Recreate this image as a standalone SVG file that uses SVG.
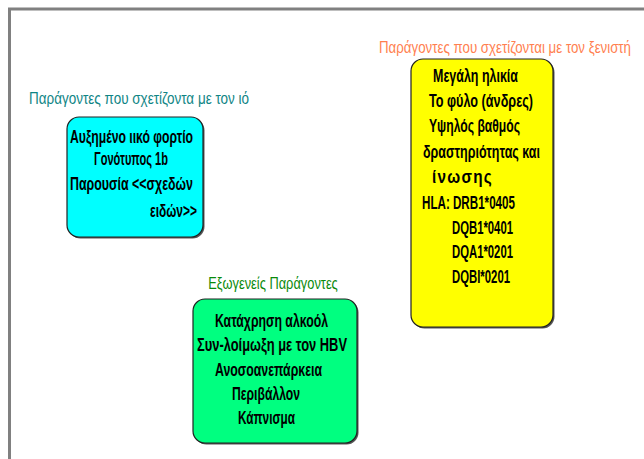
<svg xmlns="http://www.w3.org/2000/svg" width="644" height="459" viewBox="0 0 644 459">
<style>
.t{font-family:"Liberation Sans Narrow","Liberation Sans",Arial,sans-serif;font-size:16px;}
.b{font-family:"Liberation Sans Narrow","Liberation Sans",Arial,sans-serif;font-size:18px;font-weight:bold;fill:#000;}
.box{stroke:#222;stroke-width:1.2;}
.sh{fill:#555;}
</style>
<rect width="644" height="459" fill="#fff"/>
<path d="M9.5 459 V9 H644" fill="none" stroke="#808080" stroke-width="3"/>
<g id="virus">
<text class="t" transform="translate(139,104) scale(0.8,1)" x="0" y="0" text-anchor="middle" fill="#0f8585" textLength="275" lengthAdjust="spacingAndGlyphs">Παράγοντες που σχετίζοντα με τον ιό</text>
<rect class="sh" x="68.5" y="118.5" width="136" height="120" rx="12"/>
<rect class="box" x="67" y="117" width="136" height="120" rx="12" fill="#00ffff"/>
<text class="b" x="70" y="143" textLength="123" lengthAdjust="spacingAndGlyphs">Αυξημένο ιικό φορτίο</text>
<text class="b" x="94" y="165" textLength="74" lengthAdjust="spacingAndGlyphs">Γονότυπος 1b</text>
<text class="b" x="70" y="190" textLength="123" lengthAdjust="spacingAndGlyphs">Παρουσία &lt;&lt;σχεδών</text>
<text class="b" x="150" y="217" textLength="47" lengthAdjust="spacingAndGlyphs">ειδών&gt;&gt;</text>
</g>
<g id="host">
<text class="t" transform="translate(505,53) scale(0.8,1)" x="0" y="0" text-anchor="middle" fill="#ff7f50" textLength="315" lengthAdjust="spacingAndGlyphs">Παράγοντες που σχετίζονται με τον ξενιστή</text>
<rect class="sh" x="412.5" y="60.5" width="142" height="268" rx="12"/>
<rect class="box" x="411" y="59" width="142" height="268" rx="12" fill="#ffff00"/>
<text class="b" x="433" y="82" textLength="85" lengthAdjust="spacingAndGlyphs">Μεγάλη ηλικία</text>
<text class="b" x="429" y="107" textLength="104" lengthAdjust="spacingAndGlyphs">Το φύλο (άνδρες)</text>
<text class="b" x="429" y="132" textLength="91" lengthAdjust="spacingAndGlyphs">Υψηλός βαθμός</text>
<text class="b" x="423" y="158" textLength="117" lengthAdjust="spacingAndGlyphs">δραστηριότητας και</text>
<text class="b" transform="translate(432,183) scale(0.85,1)" x="0" y="0" letter-spacing="1.5">ίνωσης</text>
<text class="b" x="422" y="209" textLength="93" lengthAdjust="spacingAndGlyphs">HLA: DRB1*0405</text>
<text class="b" x="452" y="234" textLength="61" lengthAdjust="spacingAndGlyphs">DQB1*0401</text>
<text class="b" x="452" y="258" textLength="61" lengthAdjust="spacingAndGlyphs">DQA1*0201</text>
<text class="b" x="452" y="283" textLength="58" lengthAdjust="spacingAndGlyphs">DQBI*0201</text>
</g>
<g id="external">
<text class="t" transform="translate(273,289) scale(0.8,1)" x="0" y="0" text-anchor="middle" fill="#0a8a0a" textLength="162" lengthAdjust="spacingAndGlyphs">Εξωγενείς Παράγοντες</text>
<rect class="sh" x="194.5" y="300.5" width="164" height="144" rx="12"/>
<rect class="box" x="193" y="299" width="164" height="144" rx="12" fill="#00ff80"/>
<text class="b" x="215" y="327" textLength="113" lengthAdjust="spacingAndGlyphs">Κατάχρηση αλκοόλ</text>
<text class="b" x="197" y="351" textLength="150" lengthAdjust="spacingAndGlyphs">Συν-λοίμωξη με τον HBV</text>
<text class="b" x="215" y="376" textLength="107" lengthAdjust="spacingAndGlyphs">Ανοσοανεπάρκεια</text>
<text class="b" x="232" y="400" textLength="68" lengthAdjust="spacingAndGlyphs">Περιβάλλον</text>
<text class="b" x="238" y="424" textLength="57" lengthAdjust="spacingAndGlyphs">Κάπνισμα</text>
</g>
<g id="connectors"></g>
</svg>
